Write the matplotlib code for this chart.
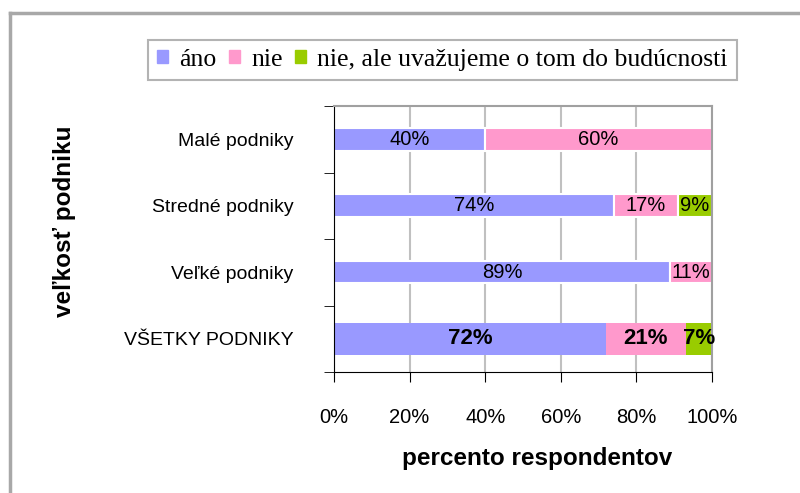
import matplotlib.pyplot as plt
import numpy as np
from matplotlib.lines import Line2D

plt.rcParams['font.family'] = ['Liberation Sans', 'DejaVu Sans']

categories = ['Malé podniky', 'Stredné podniky', 'Veľké podniky', 'VŠETKY PODNIKY']
ano = [40, 74, 89, 72]
nie = [60, 17, 11, 21]
nie_buduc = [0, 9, 0, 7]
series_names = ['áno', 'nie', 'nie, ale uvažujeme o tom do budúcnosti']
colors = ['#9999FF', '#FF99CC', '#99CC00']
xticks = [0, 20, 40, 60, 80, 100]

fig = plt.figure(figsize=(8, 4.93), dpi=100)
ax = fig.add_axes([334/800, 1-372/493, 378/800, 266/493])

y = np.arange(len(categories))
heights = [0.34, 0.34, 0.33, 0.48]
series = [ano, nie, nie_buduc]
left = np.zeros(len(categories))
for vals, col, name in zip(series, colors, series_names):
    vals = np.array(vals, dtype=float)
    for i in range(len(categories)):
        if vals[i] == 0:
            continue
        last = i == len(categories) - 1
        ax.barh(y[i], vals[i], left=left[i], height=heights[i], color=col,
                edgecolor='white' if not last else col,
                linewidth=1.5 if not last else 0, zorder=2)
        cx = left[i] + vals[i] / 2
        if last:
            ax.text(cx, y[i], f'{int(vals[i])}%', ha='center', va='center',
                    fontsize=16, fontweight='bold', zorder=3)
        else:
            ax.text(cx, y[i], f'{int(vals[i])}%', ha='center', va='center',
                    fontsize=14.5, zorder=3)
    left += vals

ax.set_xlim(0, 100)
ax.set_ylim(3.5, -0.5)
ax.set_xticks(xticks)
ax.set_xticklabels([f'{t}%' for t in xticks], fontsize=14.5)
ax.set_yticks(y)
ax.set_yticklabels(categories, fontsize=14)
ax.set_yticks(np.arange(-0.5, 4, 1), minor=True)
ax.tick_params(axis='y', which='major', length=0, pad=29)
ax.tick_params(axis='y', which='minor', length=7, direction='out', color='black')
ax.tick_params(axis='x', length=7, direction='out', color='black', pad=19)

ax.xaxis.grid(True, color='#C0C0C0', linewidth=1.5, zorder=0)
ax.set_axisbelow(True)
ax.spines['top'].set_color('#A0A0A0')
ax.spines['right'].set_color('#A0A0A0')
ax.spines['left'].set_color('black')
ax.spines['bottom'].set_color('black')
ax.spines['top'].set_linewidth(1.5)
ax.spines['right'].set_linewidth(1.5)

fig.text(65/800, 1-221/493, 'veľkosť podniku', rotation=90, ha='center',
         va='center', fontsize=17.5, fontweight='bold')
fig.text(537/800, 1-458/493, 'percento respondentov', ha='center',
         va='center', fontsize=17.5, fontweight='bold')

handles = [plt.Rectangle((0, 0), 1, 1, color=c) for c in colors]
leg = fig.legend(handles, series_names, loc='center', ncol=3,
                 bbox_to_anchor=(442.5/800, 1-60/493),
                 prop={'family': 'Liberation Serif', 'size': 18.5},
                 handlelength=0.4, handleheight=0.4, handletextpad=0.45,
                 columnspacing=0.5, frameon=True, fancybox=False,
                 borderpad=0.35, borderaxespad=0)
leg.get_frame().set_edgecolor('#A0A0A0')
leg.get_frame().set_linewidth(1.5)

# outer frame (left and top only)
fig.add_artist(Line2D([10/800, 10/800], [0, 1-13/493], color='#A8A8A8',
                      linewidth=2.5, transform=fig.transFigure))
fig.add_artist(Line2D([10/800, 1], [1-13/493, 1-13/493], color='#A8A8A8',
                      linewidth=2.5, transform=fig.transFigure))

fig.savefig('out.png', dpi=100)
